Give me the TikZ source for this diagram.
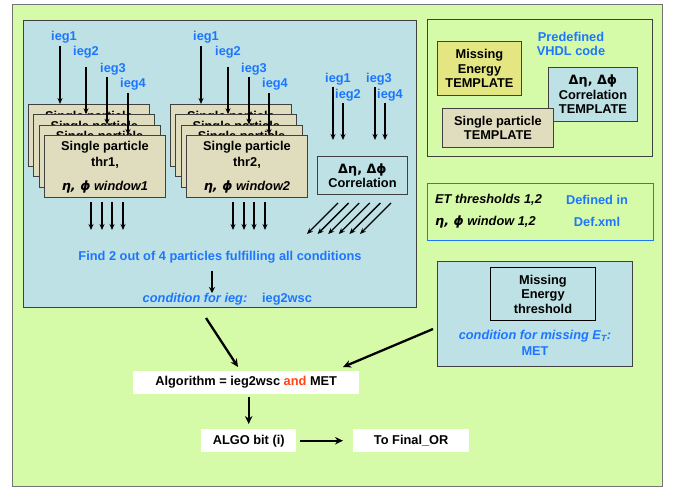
\documentclass[tikz,border=0pt]{standalone}
\usepackage{fontspec}
\setmainfont{Liberation Sans}
\newfontfamily\gk{DejaVu Sans}
\usetikzlibrary{arrows.meta}
\definecolor{bggreen}{RGB}{214,251,168}
\definecolor{pblue}{RGB}{189,225,228}
\definecolor{tanbox}{RGB}{224,220,190}
\definecolor{yelbox}{RGB}{228,230,130}
\definecolor{tblue}{RGB}{28,118,255}
\definecolor{ored}{RGB}{255,70,20}
\newcommand{\gr}[1]{{\gk #1}}
\begin{document}
\begin{tikzpicture}[x=1pt,y=-1pt,
 every node/.style={font=\fontsize{12.8}{15}\selectfont\bfseries, inner sep=0pt},
 frame/.style={draw=black!75, line width=0.9pt},
 sp/.style={frame, fill=tanbox, anchor=north west, minimum width=121pt, minimum height=62pt},
 lab/.style={text=tblue},
 arr/.style={-{Stealth[length=6pt,width=5pt]}, line width=1.3pt},
 bigarr/.style={-{Stealth[length=8pt,width=7.5pt]}, line width=2.3pt},
 wbox/.style={fill=white, minimum height=23pt, anchor=north west},
 ml/.style={align=center, font=\fontsize{12.8}{14.5}\selectfont\bfseries}]

\path[use as bounding box] (0,0) rectangle (676,487);
\draw[fill=bggreen, draw=black!55, line width=0.9pt] (12,4) rectangle (662,486);

% main panel
\node[frame, fill=pblue, anchor=north west, minimum width=393pt, minimum height=287pt] (main) at (23,20) {};

% stack 1
\foreach \k in {0,1,2} {
  \node[sp] (sa\k) at ({28+5.33*\k},{104+10.33*\k}) {};
  \node (ta\k) at ([yshift=-13pt]sa\k.north) {Single particle};
}
\node[sp] (sa3) at (44,135) {};
\node (ta3) at ([yshift=-12pt]sa3.north) {Single particle};
\node (tb3) at ([yshift=-28pt]sa3.north) {thr1,};
\node (tc3) at ([yshift=-52pt]sa3.north) {\itshape\gr{η, ϕ} window1};

% stack 2
\foreach \k in {0,1,2} {
  \node[sp] (sb\k) at ({170+5.33*\k},{104+10.33*\k}) {};
  \node (tsb\k) at ([yshift=-13pt]sb\k.north) {Single particle};
}
\node[sp] (sb3) at (186,135) {};
\node (ub3) at ([yshift=-12pt]sb3.north) {Single particle};
\node (vb3) at ([yshift=-28pt]sb3.north) {thr2,};
\node (wb3) at ([yshift=-52pt]sb3.north) {\itshape\gr{η, ϕ} window2};

% correlation box
\node[frame, anchor=north west, minimum width=90pt, minimum height=38pt, ml] (corr) at (317,156) {\gr{Δη, Δϕ}\\Correlation};

% ieg labels and arrows, stack 1
\node[lab] (a1) at (64,37) {ieg1};
\node[lab] (a2) at (86,52) {ieg2};
\node[lab] (a3) at (113,69) {ieg3};
\node[lab] (a4) at (133,84) {ieg4};
\draw[arr] (60,46) -- (60,104);
\draw[arr] (86,67) -- (86,114.3);
\draw[arr] (107,77) -- (107,124.7);
\draw[arr] (128,93) -- (128,135);

% stack 2
\node[lab] (b1) at (206,37) {ieg1};
\node[lab] (b2) at (228,52) {ieg2};
\node[lab] (b3) at (254,69) {ieg3};
\node[lab] (b4) at (275,84) {ieg4};
\draw[arr] (201,46) -- (201,104);
\draw[arr] (228,67) -- (228,114.3);
\draw[arr] (249,77) -- (249,124.7);
\draw[arr] (269,93) -- (269,135);

% correlation inputs
\node[lab] (c1) at (338,79) {ieg1};
\node[lab] (c2) at (348,95) {ieg2};
\node[lab] (c3) at (379,79) {ieg3};
\node[lab] (c4) at (390,95) {ieg4};
\draw[arr] (333,87) -- (333,140);
\draw[arr] (343,103) -- (343,140);
\draw[arr] (375,87) -- (375,140);
\draw[arr] (385,103) -- (385,140);

% outputs
\foreach \x in {91,102,112,123,233,244,254,265} {
  \draw[arr] (\x,202) -- (\x,230);
}
\foreach \x in {307,317.6,328.2,338.8,349.4,360} {
  \draw[arr] ({\x+31},203) -- (\x,234);
}

\node[lab] (find) at (220,257) {Find 2 out of 4 particles fulfilling all conditions};
\draw[-{Stealth[length=6pt,width=6pt]}, line width=2pt] (212,271) -- (212,293);
\node[lab] (cond) at (195,299) {\itshape condition for ieg:};
\node[lab] (wsc) at (287,299) {ieg2wsc};

% predefined VHDL box
\node[draw=black!75, line width=0.9pt, anchor=north west, minimum width=225pt, minimum height=137pt] (pre) at (427,19) {};
\node[lab, ml] (vhdl) at (571,44) {Predefined\\VHDL code};
\node[frame, fill=yelbox, anchor=north west, minimum width=84pt, minimum height=54pt, ml] (metpl) at (437,41) {Missing\\Energy\\TEMPLATE};
\node[frame, fill=pblue, anchor=north west, minimum width=89pt, minimum height=54pt, ml] (cortpl) at (548,67) {\gr{Δη, Δϕ}\\Correlation\\TEMPLATE};
\node[frame, fill=tanbox, anchor=north west, minimum width=111pt, minimum height=39pt, ml] (sptpl) at (442,108) {Single particle\\TEMPLATE};

% thresholds box
\node[draw=tblue, line width=0.9pt, anchor=north west, minimum width=226pt, minimum height=57pt] (thr) at (427,183) {};
\node[anchor=west] (et) at (435,200) {\itshape ET thresholds 1,2};
\node[anchor=west] (win) at (435,222) {\itshape\gr{η, ϕ} window 1,2};
\node[lab] (def1) at (597,200) {Defined in};
\node[lab] (def2) at (597,222) {Def.xml};

% MET panel
\node[frame, fill=pblue, anchor=north west, minimum width=195pt, minimum height=105pt] (metp) at (437,261) {};
\node[draw=black, line width=0.9pt, anchor=north west, minimum width=105pt, minimum height=53pt, ml] (meth) at (490,267) {Missing\\Energy\\threshold};
\node[lab] (mcond) at (535,336) {\itshape condition for missing E\textsubscript{T}:};
\node[lab] (met) at (535,351) {MET};

% algorithm
\node[wbox, minimum width=226pt] (alg) at (133,371) {Algorithm = ieg2wsc \textcolor{ored}{and} MET};
\node[wbox, minimum width=95pt] (bit) at (201,429) {ALGO bit (i)};
\node[wbox, minimum width=116pt] (fin) at (353,429) {To Final\_OR};

\coordinate (m1) at (206,318);
\coordinate (m2) at (238,367);
\coordinate (n1) at (433,329);
\coordinate (n2) at (343,367);
\draw[bigarr] (m1) -- (m2);
\draw[bigarr] (n1) -- (n2);
\draw[bigarr, shorten <=3pt, shorten >=5pt] (alg.south -| bit.north) -- (bit.north);
\draw[bigarr, shorten <=4pt, shorten >=10pt] (bit.east) -- (fin.west);
\end{tikzpicture}
\end{document}
